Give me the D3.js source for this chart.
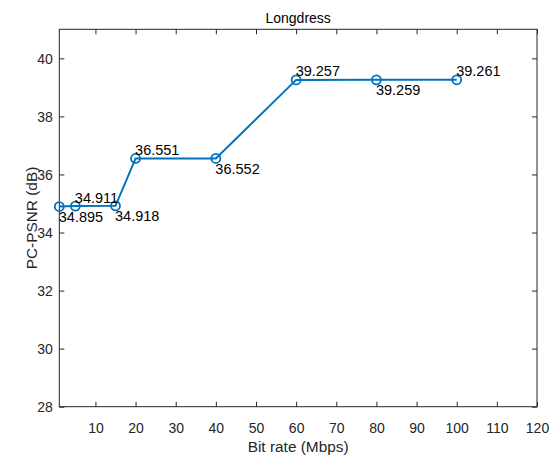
<!DOCTYPE html>
<html>
<head>
<meta charset="utf-8">
<script src="https://cdn.jsdelivr.net/npm/d3@7"></script>
<style>
  html, body { margin: 0; padding: 0; background: #fff; }
  svg { display: block; font-family: Arial, "Liberation Sans", Helvetica, sans-serif; }
</style>
</head>
<body>
<svg id="chart" width="552" height="460"></svg>
<script>
// Bit rate (Mbps) and PC-PSNR (dB) for the Longdress sequence
const bitRates = [1, 5, 15, 20, 40, 60, 80, 100];
const psnr = [34.895, 34.911, 34.918, 36.551, 36.552, 39.257, 39.259, 39.261];
const labelText = ["34.895", "34.911", "34.918", "36.551", "36.552", "39.257", "39.259", "39.261"];
// whether each value label sits above (true) or below (false) its point
const labelAbove = [false, true, false, true, false, true, false, true];
const xTicks = [10, 20, 30, 40, 50, 60, 70, 80, 90, 100, 110, 120];
const yTicks = [28, 30, 32, 34, 36, 38, 40];

const svg = d3.select("#chart");
const plotL = 59.3, plotR = 537, plotT = 29.3, plotB = 406.7;
const axisColor = "#262626";
const lineColor = "#0072BD";
const fontStack = "Arial, 'Liberation Sans', Helvetica, sans-serif";

const x = d3.scaleLinear().domain([1, 120]).range([plotL, plotR]);
const y = d3.scaleLinear().domain([28, 41]).range([plotB, plotT]);

const tickLen = 5;

// bottom axis (ticks inward)
const gx = svg.append("g").attr("transform", `translate(0,${plotB})`)
  .call(d3.axisBottom(x).tickValues(xTicks).tickSize(-tickLen).tickPadding(0).tickFormat(d3.format("d")));
gx.attr("font-size", null).attr("font-family", null);
gx.select(".domain").remove();
gx.selectAll("line").attr("stroke", axisColor);
gx.selectAll("text").attr("fill", axisColor)
  .attr("y", 26).attr("dy", null)
  .style("font-size", "14px").style("font-family", fontStack);

// top axis ticks
const gxt = svg.append("g").attr("transform", `translate(0,${plotT})`)
  .call(d3.axisTop(x).tickValues(xTicks).tickSize(-tickLen).tickFormat(""));
gxt.select(".domain").remove();
gxt.selectAll("line").attr("stroke", axisColor);

// left axis
const gy = svg.append("g").attr("transform", `translate(${plotL},0)`)
  .call(d3.axisLeft(y).tickValues(yTicks).tickSize(-tickLen).tickFormat(d3.format("d")));
gy.attr("font-size", null).attr("font-family", null);
gy.select(".domain").remove();
gy.selectAll("line").attr("stroke", axisColor);
gy.selectAll("text").attr("fill", axisColor)
  .attr("x", -6.5).attr("dy", "0.35em")
  .style("font-size", "14px").style("font-family", fontStack);

// right axis ticks
const gyr = svg.append("g").attr("transform", `translate(${plotR},0)`)
  .call(d3.axisRight(y).tickValues(yTicks).tickSize(-tickLen).tickFormat(""));
gyr.select(".domain").remove();
gyr.selectAll("line").attr("stroke", axisColor);

// axes box
svg.append("rect")
  .attr("x", plotL).attr("y", plotT)
  .attr("width", plotR - plotL).attr("height", plotB - plotT)
  .attr("fill", "none").attr("stroke", axisColor).attr("stroke-width", 1);

// title and axis labels
svg.append("text").attr("x", (plotL + plotR) / 2).attr("y", 23)
  .attr("text-anchor", "middle").style("font-size", "14px").attr("fill", "#000")
  .text("Longdress");
svg.append("text").attr("x", (plotL + plotR) / 2).attr("y", 451.5)
  .attr("text-anchor", "middle").style("font-size", "15.4px").attr("fill", axisColor)
  .text("Bit rate (Mbps)");
svg.append("text")
  .attr("transform", `translate(36.5,${(plotT + plotB) / 2}) rotate(-90)`)
  .attr("text-anchor", "middle").style("font-size", "15.4px").attr("fill", axisColor)
  .text("PC-PSNR (dB)");

// data line
const pts = bitRates.map((b, i) => [b, psnr[i]]);
svg.append("path").datum(pts)
  .attr("fill", "none").attr("stroke", lineColor).attr("stroke-width", 2)
  .attr("d", d3.line().x(d => x(d[0])).y(d => y(d[1])));

// circle markers
svg.selectAll("circle.marker").data(pts).enter().append("circle")
  .attr("class", "marker")
  .attr("cx", d => x(d[0])).attr("cy", d => y(d[1])).attr("r", 4.5)
  .attr("fill", "none").attr("stroke", lineColor).attr("stroke-width", 1.8);

// value labels
svg.selectAll("text.val").data(pts).enter().append("text")
  .attr("class", "val")
  .attr("x", d => x(d[0]) - 0.5)
  .attr("y", (d, i) => y(d[1]) + (labelAbove[i] ? -3.5 : 15.5))
  .style("font-size", "14.5px").attr("fill", "#000")
  .text((d, i) => labelText[i]);
</script>
</body>
</html>
